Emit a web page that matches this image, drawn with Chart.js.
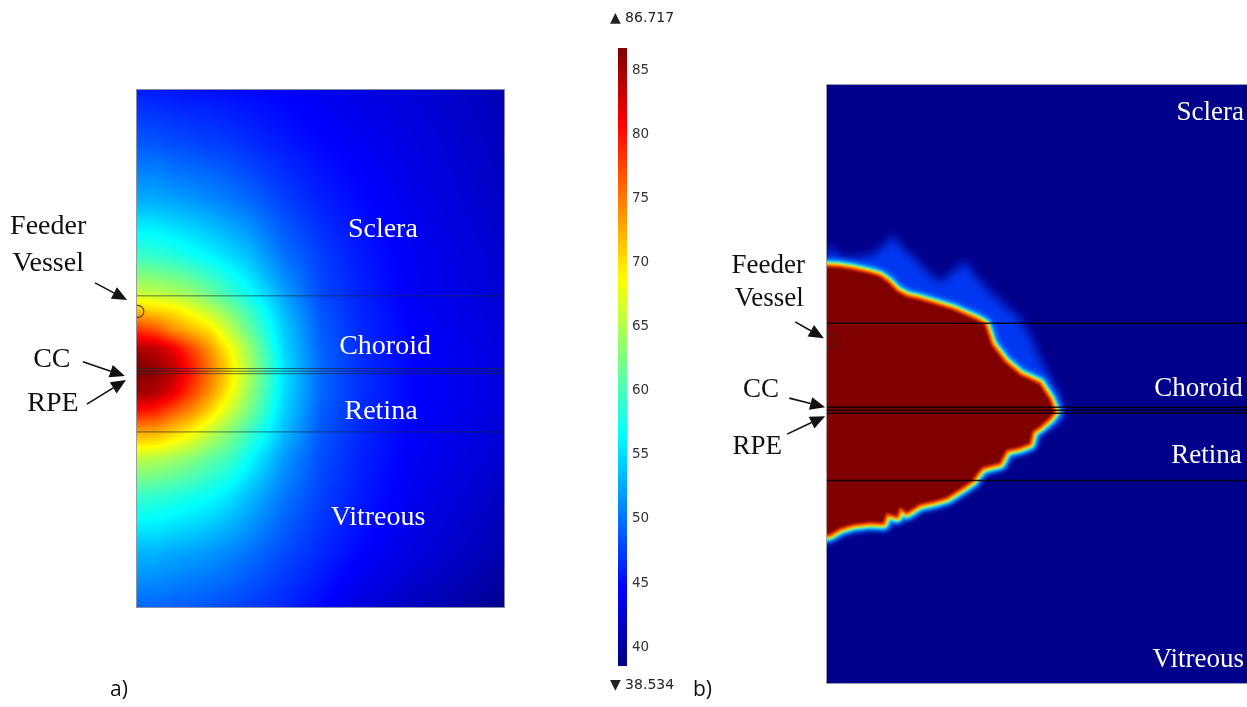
<!DOCTYPE html>
<html>
<head>
<meta charset="utf-8">
<script src="https://cdn.jsdelivr.net/npm/chart.js@4.4.1/dist/chart.umd.min.js"></script>
<style>
  html, body { margin: 0; padding: 0; background: #fff; overflow: hidden; }
  #wrap { position: relative; width: 1247px; height: 707px; overflow: hidden; }
  #wrap canvas { position: absolute; left: 0; top: 0; }
  .tag { position: absolute; font-family: 'Open Sans', 'Liberation Sans', sans-serif; font-size: 21px; color: #111; }
</style>
</head>
<body>
<div id="wrap">
  <canvas id="panelA" width="1247" height="707"></canvas>
  <canvas id="colorBar" width="1247" height="707"></canvas>
  <canvas id="panelB" width="1262" height="707"></canvas>
  <div class="tag" style="left:110px;top:674px">a)</div>
  <div class="tag" style="left:693px;top:674px">b)</div>
</div>
<script>
// temperature range of the colour bar
const tMin = 38.534;
const tMax = 86.717;
const barTicks = [40, 45, 50, 55, 60, 65, 70, 75, 80, 85];

// tissue layers, y measured up from the vitreous side
const layerNames = ['Sclera', 'Choroid', 'Retina', 'Vitreous'];
const interfaceY = [8.42, 6.46, 6.39, 6.32, 4.75];
const feederVessel = [{ x: 0.05, y: 8.0 }];

// a) temperature field, one row per gridY value
const gridX = [0, 0.5, 1, 1.5, 2, 2.5, 3, 4, 5, 6, 7.5, 10];
const gridY = [0, 1.5, 3, 4, 4.75, 5.3, 5.8, 6.1, 6.4, 6.7, 7.0, 7.5, 8, 8.5, 9.5, 11, 12.5, 14];
const gridT = [
  [49.4, 49.3, 49.0, 48.7, 48.4, 48.0, 47.4, 46.3, 44.8, 43.0, 41.4, 39.3],
  [53.2, 53.1, 52.6, 52.2, 51.7, 51.0, 50.1, 48.1, 46.4, 44.8, 43.0, 40.8],
  [59.0, 58.9, 58.3, 57.5, 56.7, 55.4, 53.7, 50.2, 47.6, 45.9, 43.8, 41.6],
  [65.2, 65.0, 64.0, 62.8, 61.0, 59.6, 57.0, 51.8, 48.2, 46.2, 44.1, 42.3],
  [73.1, 72.8, 71.0, 69.0, 66.0, 63.2, 60.0, 53.6, 48.7, 46.5, 44.3, 42.6],
  [80.0, 79.3, 76.5, 74.0, 70.5, 66.5, 62.8, 54.6, 49.0, 46.7, 44.5, 42.8],
  [85.2, 84.6, 81.8, 77.8, 73.7, 69.2, 64.4, 55.1, 49.5, 46.9, 44.6, 43.0],
  [86.0, 85.3, 83.1, 79.0, 74.7, 70.0, 65.0, 55.3, 49.5, 46.9, 44.6, 43.0],
  [86.7, 86.1, 84.0, 79.7, 75.0, 70.5, 65.3, 55.4, 49.5, 46.9, 44.6, 43.0],
  [86.2, 85.0, 83.0, 79.0, 74.7, 70.0, 65.0, 55.2, 49.4, 46.8, 44.6, 43.0],
  [84.4, 84.0, 81.5, 77.5, 73.5, 69.0, 64.5, 54.8, 49.3, 46.7, 44.5, 42.9],
  [78.5, 77.0, 74.0, 72.0, 70.0, 66.0, 62.0, 54.3, 49.0, 46.6, 44.4, 42.8],
  [72.0, 71.0, 70.0, 68.0, 65.8, 63.0, 60.0, 53.4, 48.6, 46.4, 44.3, 42.7],
  [66.0, 65.5, 64.8, 63.6, 61.6, 59.4, 57.2, 52.2, 48.0, 46.2, 44.1, 42.5],
  [59.2, 59.0, 58.3, 57.3, 56.2, 55.0, 53.8, 50.0, 47.5, 45.8, 44.0, 42.3],
  [52.8, 52.7, 52.2, 51.7, 51.1, 50.4, 49.6, 47.6, 46.0, 44.9, 43.6, 41.8],
  [48.8, 48.7, 48.2, 47.9, 47.6, 47.3, 46.7, 45.7, 44.8, 44.1, 43.2, 41.5],
  [45.8, 45.7, 45.5, 45.3, 45.2, 45.0, 44.8, 44.4, 43.8, 43.3, 42.6, 41.2]
];

// b) outline of the coagulated zone and of the heated fringe above it
const lesion = [
  [0, 3.48], [0, 9.73], [0.33, 9.71], [0.63, 9.66], [1.03, 9.57], [1.26, 9.50], [1.45, 9.36],
  [1.66, 9.15], [1.89, 9.03], [2.19, 8.96], [2.96, 8.73], [3.52, 8.49], [3.71, 8.38], [3.87, 7.91],
  [4.18, 7.51], [4.53, 7.21], [4.99, 7.00], [5.23, 6.63], [5.34, 6.35], [5.23, 6.21], [4.99, 6.00],
  [4.83, 5.90], [4.76, 5.62], [4.53, 5.53], [4.22, 5.46], [4.06, 5.16], [3.66, 5.06], [3.52, 4.90],
  [3.43, 4.76], [3.20, 4.60], [2.82, 4.36], [2.59, 4.29], [2.19, 4.20], [1.89, 4.01], [1.73, 4.13],
  [1.66, 3.92], [1.42, 3.99], [1.33, 3.76], [1.03, 3.78], [0.63, 3.73], [0.33, 3.64], [0.09, 3.50],
  [0, 3.48]
];
const fringe = [
  [0, 10.22], [0.21, 10.08], [0.44, 9.92], [0.75, 9.96], [1.07, 10.01], [1.35, 10.22], [1.56, 10.48],
  [1.75, 10.20], [2.01, 9.99], [2.33, 9.66], [2.66, 9.36], [2.96, 9.61], [3.27, 9.85], [3.50, 9.50],
  [3.83, 9.15], [4.18, 8.84], [4.53, 8.54], [4.78, 8.10], [4.99, 7.63], [5.23, 7.16], [5.46, 6.70],
  [5.55, 6.35], [5.41, 6.04], [1.73, 5.93], [0, 5.93]
];

function jet(v) {
  const t = Math.min(1, Math.max(0, (v - tMin) / (tMax - tMin)));
  const c = (a) => Math.round(255 * Math.min(1, Math.max(0, a)));
  return [c(Math.min(4 * t - 1.5, -4 * t + 4.5)), c(Math.min(4 * t - 0.5, -4 * t + 3.5)), c(Math.min(4 * t + 0.5, -4 * t + 2.5))];
}
const jetCss = (v) => 'rgb(' + jet(v).join(',') + ')';
const pts = (list) => list.map(([x, y]) => ({ x, y }));

// shaded temperature field, bilinear between grid nodes
const fieldPlugin = {
  id: 'field',
  beforeDatasetsDraw(chart) {
    const { ctx, chartArea: a, scales: { x, y } } = chart;
    const w = Math.round(a.right - a.left), h = Math.round(a.bottom - a.top);
    const img = ctx.createImageData(w, h);
    const clamp = (f) => Math.min(1, Math.max(0, f));
    const cols = [];
    for (let i = 0; i < w; i++) {
      const vx = x.getValueForPixel(a.left + i + 0.5);
      let k = 0;
      while (k < gridX.length - 2 && vx > gridX[k + 1]) k++;
      cols.push([k, clamp((vx - gridX[k]) / (gridX[k + 1] - gridX[k]))]);
    }
    for (let j = 0; j < h; j++) {
      const vy = y.getValueForPixel(a.top + j + 0.5);
      let m = 0;
      while (m < gridY.length - 2 && vy > gridY[m + 1]) m++;
      const g = clamp((vy - gridY[m]) / (gridY[m + 1] - gridY[m]));
      const r0 = gridT[m], r1 = gridT[m + 1];
      for (let i = 0; i < w; i++) {
        const [k, f] = cols[i];
        const v = (r0[k] * (1 - f) + r0[k + 1] * f) * (1 - g) + (r1[k] * (1 - f) + r1[k + 1] * f) * g;
        const c = jet(v);
        const p = (j * w + i) * 4;
        img.data[p] = c[0]; img.data[p + 1] = c[1]; img.data[p + 2] = c[2]; img.data[p + 3] = 255;
      }
    }
    ctx.putImageData(img, a.left, a.top);
  }
};

// filled / stroked outlines taken from the dataset point positions
const shapePlugin = {
  id: 'shapes',
  beforeDatasetsDraw(chart, args, opts) {
    if (!opts.background) return;
    const a = chart.chartArea;
    chart.ctx.fillStyle = opts.background;
    chart.ctx.fillRect(a.left, a.top, a.right - a.left, a.bottom - a.top);
  },
  beforeDatasetDraw(chart, args) {
    const ds = chart.data.datasets[args.index];
    if (!ds.shade) return;
    const { ctx, chartArea: a } = chart;
    const p = args.meta.data;
    ctx.save();
    ctx.beginPath();
    ctx.rect(a.left, a.top, a.right - a.left, a.bottom - a.top);
    ctx.clip();
    ctx.filter = 'blur(' + ds.shade.blur + 'px)';
    ctx.beginPath();
    p.forEach((pt, i) => (i ? ctx.lineTo(pt.x, pt.y) : ctx.moveTo(pt.x, pt.y)));
    ctx.closePath();
    if (ds.shade.ring) {
      ctx.strokeStyle = ds.shade.color;
      ctx.lineWidth = ds.shade.ring;
      ctx.lineJoin = 'round';
      ctx.stroke();
    } else {
      ctx.fillStyle = ds.shade.color;
      ctx.fill();
    }
    ctx.restore();
  },
  afterDatasetsDraw(chart, args, opts) {
    const { ctx, chartArea: a } = chart;
    ctx.save();
    ctx.strokeStyle = opts.frame || '#aaa';
    ctx.lineWidth = 1;
    ctx.strokeRect(a.left + 0.5, a.top + 0.5, a.right - a.left - 1, a.bottom - a.top - 1);
    ctx.restore();
  }
};

function arrow(ctx, x1, y1, x2, y2) {
  const ang = Math.atan2(y2 - y1, x2 - x1), L = 15, W = 6.5;
  const bx = x2 - L * Math.cos(ang), by = y2 - L * Math.sin(ang);
  ctx.beginPath();
  ctx.moveTo(x1, y1);
  ctx.lineTo(bx, by);
  ctx.lineWidth = 1.6;
  ctx.stroke();
  ctx.beginPath();
  ctx.moveTo(x2, y2);
  ctx.lineTo(bx - W * Math.sin(ang), by + W * Math.cos(ang));
  ctx.lineTo(bx + W * Math.sin(ang), by - W * Math.cos(ang));
  ctx.closePath();
  ctx.fill();
}

// text labels and pointer arrows, placed in model units
const notesPlugin = {
  id: 'notes',
  afterDraw(chart, args, opts) {
    const { ctx, scales: { x, y } } = chart;
    ctx.save();
    ctx.textBaseline = 'middle';
    for (const t of opts.texts) {
      ctx.font = t.font;
      ctx.fillStyle = t.color;
      ctx.textAlign = t.align || 'center';
      ctx.fillText(t.text, x.getPixelForValue(t.x), y.getPixelForValue(t.y));
    }
    ctx.fillStyle = '#111';
    ctx.strokeStyle = '#111';
    for (const r of opts.arrows) {
      arrow(ctx, x.getPixelForValue(r[0]), y.getPixelForValue(r[1]), x.getPixelForValue(r[2]), y.getPixelForValue(r[3]));
    }
    ctx.restore();
  }
};

function layerLines(color, width) {
  return interfaceY.map((v) => ({
    data: [{ x: 0, y: v }, { x: 10, y: v }],
    showLine: true, borderColor: color, borderWidth: width, pointRadius: 0, clip: 0
  }));
}

function vesselMark(radius) {
  return {
    data: feederVessel, pointRadius: radius, pointStyle: 'circle',
    backgroundColor: 'rgba(0,0,0,0)', borderColor: 'rgba(40,40,40,0.8)', borderWidth: 1.2, clip: 0
  };
}

function baseOptions(padding, plugins) {
  return {
    responsive: false,
    animation: false,
    events: [],
    layout: { padding },
    scales: {
      x: { type: 'linear', min: 0, max: 10, display: false },
      y: { type: 'linear', min: 0, max: 14, display: false }
    },
    plugins: Object.assign({ legend: { display: false }, tooltip: { enabled: false } }, plugins)
  };
}

const serifA = '28px "Liberation Serif", "DejaVu Serif", serif';
const serifB = '27px "Liberation Serif", "DejaVu Serif", serif';

// a) full temperature field
new Chart(document.getElementById('panelA'), {
  type: 'scatter',
  data: { datasets: [...layerLines('rgba(30,40,50,0.65)', 1), vesselMark(6)] },
  options: baseOptions({ left: 136, top: 89, right: 742, bottom: 99 }, {
    shapes: { frame: 'rgba(150,150,160,0.9)' },
    notes: {
      texts: [
        { text: layerNames[0], x: 6.69, y: 10.2, font: serifA, color: '#fff' },
        { text: layerNames[1], x: 6.75, y: 7.06, font: serifA, color: '#fff' },
        { text: layerNames[2], x: 6.64, y: 5.3, font: serifA, color: '#fff' },
        { text: layerNames[3], x: 6.56, y: 2.45, font: serifA, color: '#fff' },
        { text: 'Feeder', x: -2.38, y: 10.3, font: serifA, color: '#111' },
        { text: 'Vessel', x: -2.38, y: 9.28, font: serifA, color: '#111' },
        { text: 'CC', x: -2.28, y: 6.71, font: serifA, color: '#111' },
        { text: 'RPE', x: -2.25, y: 5.5, font: serifA, color: '#111' }
      ],
      arrows: [[-1.11, 8.77, -0.24, 8.31], [-1.44, 6.64, -0.30, 6.26], [-1.33, 5.50, -0.27, 6.15]]
    }
  }),
  plugins: [fieldPlugin, shapePlugin, notesPlugin]
});

// colour bar
new Chart(document.getElementById('colorBar'), {
  type: 'bar',
  data: {
    labels: ['T'],
    datasets: [{
      data: [[tMin, tMax]],
      barPercentage: 1, categoryPercentage: 1, borderWidth: 0,
      backgroundColor(c) {
        const a = c.chart.chartArea;
        if (!a) return jetCss(tMin);
        const g = c.chart.ctx.createLinearGradient(0, a.bottom, 0, a.top);
        [0, 0.125, 0.375, 0.625, 0.875, 1].forEach((s) => g.addColorStop(s, jetCss(tMin + s * (tMax - tMin))));
        return g;
      }
    }]
  },
  options: {
    responsive: false,
    animation: false,
    events: [],
    layout: { padding: { left: 618, top: 48, right: 590, bottom: 41 } },
    scales: {
      x: { display: false },
      y: {
        position: 'right', min: tMin, max: tMax,
        grid: { display: false, drawTicks: false }, border: { display: false },
        afterBuildTicks(s) { s.ticks = barTicks.map((v) => ({ value: v })); },
        afterFit(s) { s.width = 30; },
        ticks: { padding: 5, color: '#333', font: { family: '"DejaVu Sans", sans-serif', size: 13.5 } }
      }
    },
    plugins: { legend: { display: false }, tooltip: { enabled: false } }
  },
  plugins: [{
    id: 'extremes',
    afterDraw(chart) {
      const { ctx, chartArea: a } = chart;
      ctx.save();
      ctx.fillStyle = '#222';
      ctx.font = '14px "DejaVu Sans", sans-serif';
      ctx.textAlign = 'center';
      ctx.textBaseline = 'middle';
      ctx.fillText('\u25B2 ' + tMax.toFixed(3), a.left + 24, a.top - 30);
      ctx.fillText('\u25BC ' + tMin.toFixed(3), a.left + 24, a.bottom + 19);
      ctx.restore();
    }
  }]
});

// b) coagulated zone
new Chart(document.getElementById('panelB'), {
  type: 'scatter',
  data: {
    datasets: [
      ...layerLines('rgba(0,0,0,0.85)', 1.5),
      vesselMark(7.5),
      { data: pts(lesion), pointRadius: 0, shade: { color: 'rgb(128,0,0)', blur: 0.8 } },
      { data: pts(lesion), pointRadius: 0, shade: { color: 'rgb(255,70,0)', ring: 5, blur: 1 } },
      { data: pts(lesion), pointRadius: 0, shade: { color: 'rgb(255,235,0)', ring: 9, blur: 1.2 } },
      { data: pts(lesion), pointRadius: 0, shade: { color: 'rgb(40,240,255)', ring: 13, blur: 1.5 } },
      { data: pts(lesion), pointRadius: 0, shade: { color: 'rgb(0,110,255)', ring: 18, blur: 2 } },
      { data: pts(fringe), pointRadius: 0, shade: { color: 'rgb(0,55,240)', blur: 5 } }
    ]
  },
  options: baseOptions({ left: 826, top: 84, right: 7, bottom: 23 }, {
    shapes: { background: 'rgb(0,0,139)', frame: 'rgba(170,170,170,0.9)' },
    notes: {
      texts: [
        { text: layerNames[0], x: 9.78, y: 13.32, font: serifB, color: '#fff', align: 'right' },
        { text: layerNames[1], x: 7.68, y: 6.88, font: serifB, color: '#fff', align: 'left' },
        { text: layerNames[2], x: 9.73, y: 5.32, font: serifB, color: '#fff', align: 'right' },
        { text: layerNames[3], x: 9.78, y: 0.56, font: serifB, color: '#fff', align: 'right' },
        { text: 'Feeder', x: -1.35, y: 9.75, font: serifB, color: '#111' },
        { text: 'Vessel', x: -1.33, y: 8.98, font: serifB, color: '#111' },
        { text: 'CC', x: -1.52, y: 6.86, font: serifB, color: '#111' },
        { text: 'RPE', x: -1.61, y: 5.53, font: serifB, color: '#111' }
      ],
      arrows: [[-0.72, 8.45, -0.05, 8.07], [-0.86, 6.67, -0.02, 6.46], [-0.91, 5.83, -0.02, 6.25]]
    }
  }),
  plugins: [shapePlugin, notesPlugin]
});
</script>
</body>
</html>
